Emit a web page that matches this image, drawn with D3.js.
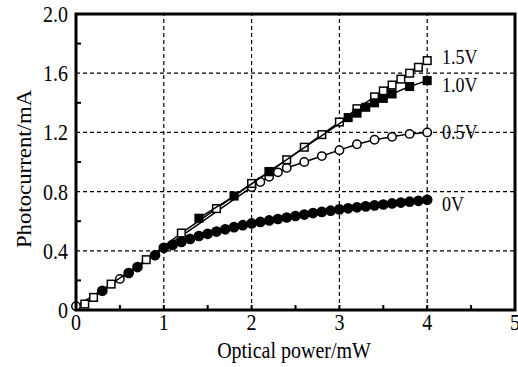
<!DOCTYPE html>
<html>
<head>
<meta charset="utf-8">
<script src="https://cdn.jsdelivr.net/npm/d3@7"></script>
<style>
  html, body { margin: 0; padding: 0; background: #fff; }
  svg { display: block; }
  text { font-family: "Liberation Serif", "Times New Roman", serif; fill: #000; }
</style>
</head>
<body>
<div id="chart"></div>
<script>
// tick values
const xTicks = [0, 1, 2, 3, 4, 5];
const yTicks = [0, 0.4, 0.8, 1.2, 1.6, 2.0];
const yTickLabels = ["0", "0.4", "0.8", "1.2", "1.6", "2.0"];

// 0V
const p0 = [0.3, 0.6, 0.7, 0.9, 1.0, 1.1, 1.2, 1.3, 1.4, 1.5, 1.6, 1.7, 1.8, 1.9, 2.0,
  2.1, 2.2, 2.3, 2.4, 2.5, 2.6, 2.7, 2.8, 2.9, 3.0, 3.1, 3.2, 3.3, 3.4, 3.5, 3.6, 3.7, 3.8, 3.9, 4.0];
const i0 = [0.13, 0.25, 0.29, 0.37, 0.42, 0.44, 0.46, 0.48, 0.50, 0.515, 0.53, 0.545, 0.56, 0.573, 0.585,
  0.595, 0.605, 0.615, 0.625, 0.635, 0.645, 0.655, 0.663, 0.671, 0.68, 0.687, 0.694, 0.70, 0.707, 0.713, 0.72, 0.726, 0.732, 0.738, 0.745];

// 0.5V
const p05 = [0.0, 0.5, 2.0, 2.1, 2.2, 2.3, 2.4, 2.6, 2.8, 3.0, 3.2, 3.4, 3.6, 3.8, 4.0];
const i05 = [0.025, 0.21, 0.83, 0.865, 0.90, 0.93, 0.96, 1.0, 1.04, 1.08, 1.12, 1.15, 1.17, 1.19, 1.20];

// 1.0V
const p10 = [1.4, 1.8, 2.2, 3.1, 3.2, 3.3, 3.4, 3.5, 3.6, 3.8, 4.0];
const i10 = [0.62, 0.77, 0.935, 1.30, 1.33, 1.37, 1.40, 1.43, 1.46, 1.51, 1.55];

// 1.5V
const p15 = [0.1, 0.2, 0.4, 0.8, 1.2, 1.6, 2.0, 2.2, 2.4, 2.6, 2.8, 3.0, 3.2, 3.4, 3.5, 3.6, 3.7, 3.8, 3.9, 4.0];
const i15 = [0.04, 0.085, 0.175, 0.34, 0.52, 0.685, 0.855, 0.935, 1.015, 1.10, 1.185, 1.27, 1.36, 1.44, 1.48, 1.52, 1.56, 1.60, 1.64, 1.685];

const seriesNames = ["0V", "0.5V", "1.0V", "1.5V"];

const width = 518, height = 367;
const stretch = 1.18; // the scanned glyphs are taller than they are wide
const x = d3.scaleLinear().domain([0, 5]).range([76, 515]);
const y = d3.scaleLinear().domain([0, 2]).range([310, 14]);

const svg = d3.select("#chart").append("svg")
  .attr("width", width)
  .attr("height", height);

// grid
svg.append("g").selectAll("line")
  .data(xTicks.slice(1, -1))
  .enter().append("line")
  .attr("x1", d => x(d)).attr("x2", d => x(d))
  .attr("y1", y(0)).attr("y2", y(2))
  .attr("stroke", "#000").attr("stroke-width", 1.2)
  .attr("stroke-dasharray", "4,3");

svg.append("g").selectAll("line")
  .data(yTicks.slice(1, -1))
  .enter().append("line")
  .attr("x1", x(0)).attr("x2", x(5))
  .attr("y1", d => y(d)).attr("y2", d => y(d))
  .attr("stroke", "#000").attr("stroke-width", 1.2)
  .attr("stroke-dasharray", "4,3");

// series
const line = d3.line().x(d => x(d[0])).y(d => y(d[1]));
const zip = (a, b) => a.map((v, i) => [v, b[i]]);

function drawSeries(data, shape, filled, size) {
  const g = svg.append("g");
  g.append("path")
    .datum(data)
    .attr("d", line)
    .attr("fill", "none")
    .attr("stroke", "#000")
    .attr("stroke-width", 1.5);
  if (shape === "circle") {
    g.selectAll("circle").data(data).enter().append("circle")
      .attr("cx", d => x(d[0])).attr("cy", d => y(d[1]))
      .attr("r", size)
      .attr("fill", filled ? "#000" : "#fff")
      .attr("stroke", "#000").attr("stroke-width", 1.5);
  } else {
    g.selectAll("rect").data(data).enter().append("rect")
      .attr("x", d => x(d[0]) - size).attr("y", d => y(d[1]) - size)
      .attr("width", size * 2).attr("height", size * 2)
      .attr("fill", filled ? "#000" : "#fff")
      .attr("stroke", "#000").attr("stroke-width", 1.5);
  }
}

drawSeries(zip(p0, i0), "circle", true, 4.6);
drawSeries(zip(p05, i05), "circle", false, 4.2);
drawSeries(zip(p15, i15), "rect", false, 3.8);
drawSeries(zip(p10, i10), "rect", true, 3.8);

// series labels
const labelPos = [i0[i0.length - 1], i05[i05.length - 1], i10[i10.length - 1], i15[i15.length - 1]];
const labelNudge = [11, 7, 11, 3];
svg.append("g").selectAll("text")
  .data(seriesNames)
  .enter().append("text")
  .attr("transform", (d, i) => `translate(442,${y(labelPos[i]) + labelNudge[i]}) scale(1,${stretch})`)
  .style("font-size", "18px")
  .text(d => d);

// frame
svg.append("rect")
  .attr("x", x(0)).attr("y", y(2))
  .attr("width", x(5) - x(0)).attr("height", y(0) - y(2))
  .attr("fill", "none").attr("stroke", "#000").attr("stroke-width", 3);

// minor + major ticks (inward)
const xMinor = d3.range(0.5, 5, 1);
svg.append("g").selectAll("line")
  .data(xMinor.concat(xTicks.slice(1, -1)))
  .enter().append("line")
  .attr("x1", d => x(d)).attr("x2", d => x(d))
  .attr("y1", y(0)).attr("y2", y(0) - 5)
  .attr("stroke", "#000").attr("stroke-width", 2);

const yMinor = d3.range(0.2, 2, 0.4);
svg.append("g").selectAll("line")
  .data(yMinor)
  .enter().append("line")
  .attr("x1", x(0)).attr("x2", x(0) + 5)
  .attr("y1", d => y(d)).attr("y2", d => y(d))
  .attr("stroke", "#000").attr("stroke-width", 2);

// tick labels
svg.append("g").selectAll("text")
  .data(xTicks)
  .enter().append("text")
  .attr("transform", d => `translate(${x(d)},330) scale(1,${stretch})`)
  .attr("text-anchor", "middle")
  .style("font-size", "20px")
  .text(d => d);

svg.append("g").selectAll("text")
  .data(yTicks)
  .enter().append("text")
  .attr("transform", d => `translate(68,${y(d) + 8}) scale(1,${stretch})`)
  .attr("text-anchor", "end")
  .style("font-size", "20px")
  .text((d, i) => yTickLabels[i]);

// axis titles
svg.append("text")
  .attr("transform", `translate(294,358) scale(1,${stretch})`)
  .attr("text-anchor", "middle")
  .style("font-size", "20px")
  .text("Optical power/mW");

svg.append("text")
  .attr("transform", `translate(31,169) rotate(-90) scale(1.14,1)`)
  .attr("text-anchor", "middle")
  .style("font-size", "20px")
  .text("Photocurrent/mA");
</script>
</body>
</html>
